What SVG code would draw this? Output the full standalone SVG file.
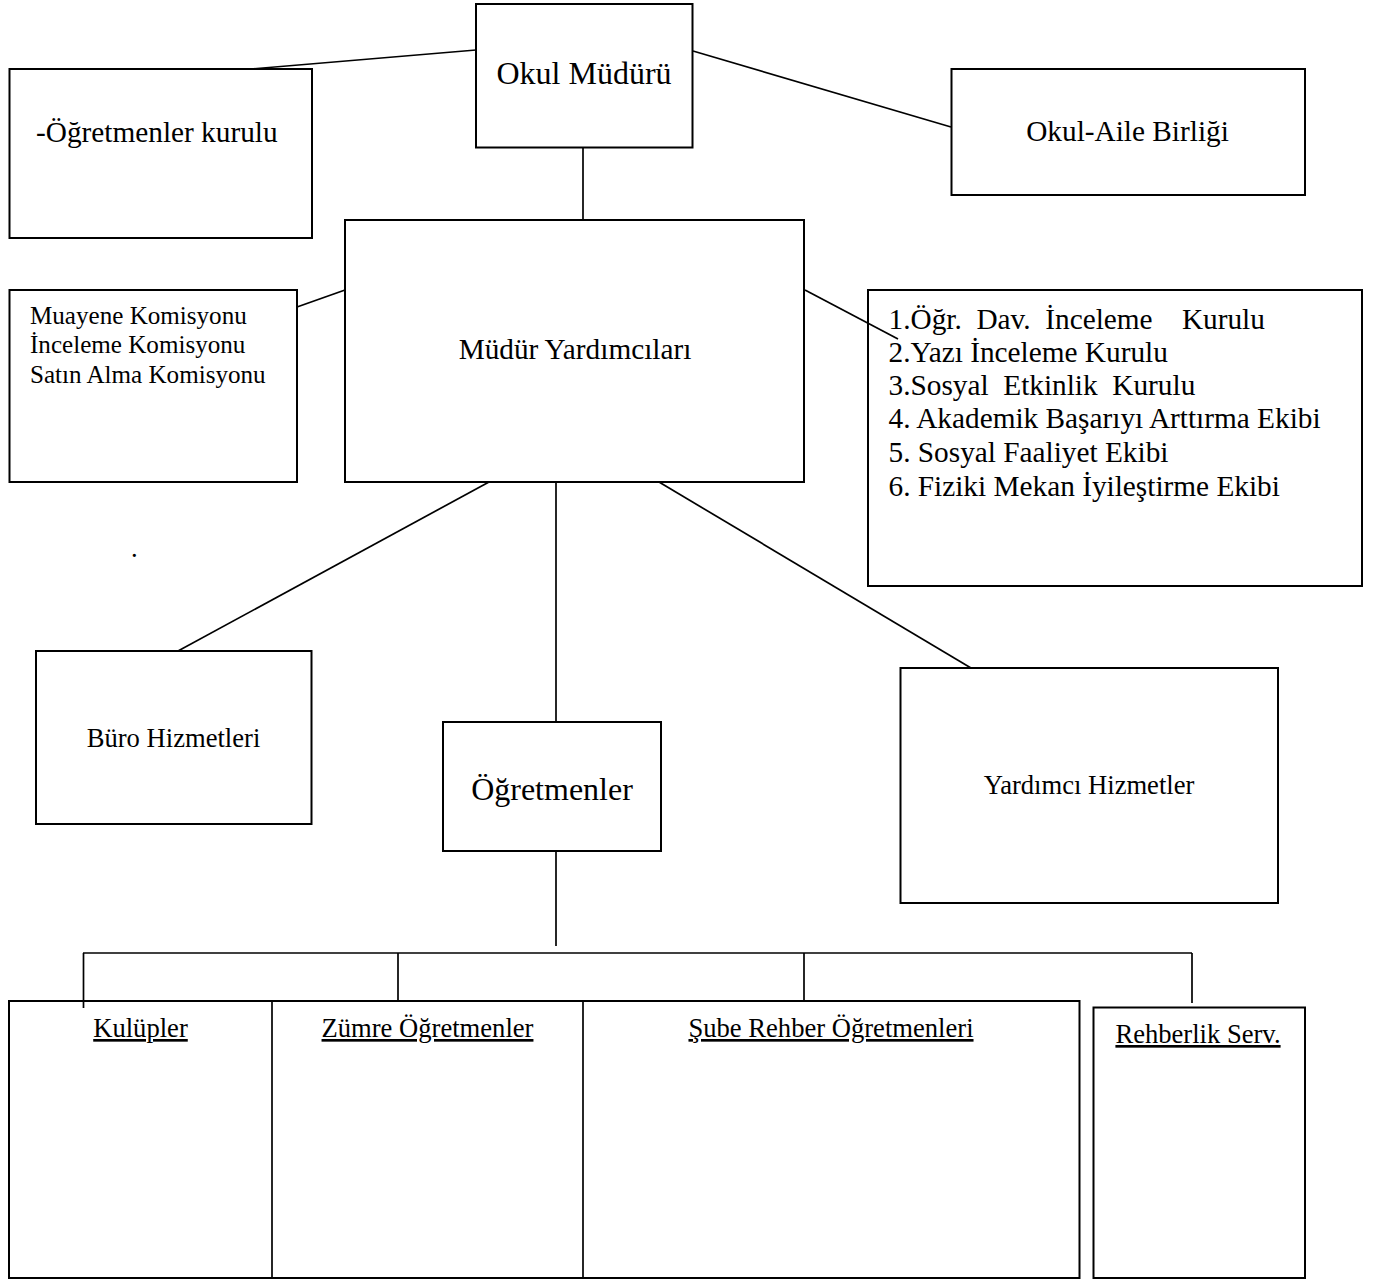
<svg xmlns="http://www.w3.org/2000/svg" width="1376" height="1279" viewBox="0 0 1376 1279">
<style>
  .box { fill: #fff; stroke: #000; stroke-width: 2; }
  .ln { stroke: #000; stroke-width: 1.7; fill: none; }
  text { font-family: "Liberation Serif", "Times New Roman", serif; fill: #000; }
  .t29 { font-size: 29.3px; }
  .t27 { font-size: 26.6px; }
  .t32 { font-size: 32px; }
  .t25 { font-size: 25.1px; }
  .u { text-decoration: underline; }
</style>
<rect width="1376" height="1279" fill="#fff"/>
<g id="okul-muduru">
  <rect class="box" x="476" y="4" width="216.5" height="143.5"/>
  <text class="t32" x="584" y="84" text-anchor="middle">Okul Müdürü</text>
</g>
<g id="ogretmenler-kurulu">
  <rect class="box" x="9.5" y="69" width="302.5" height="169"/>
  <text class="t29" x="36" y="142">-Öğretmenler kurulu</text>
</g>
<g id="okul-aile">
  <rect class="box" x="951.5" y="69" width="353.5" height="126"/>
  <text class="t29" x="1127.5" y="141" text-anchor="middle">Okul-Aile Birliği</text>
</g>
<g id="mudur-yardimcilari">
  <rect class="box" x="345" y="220" width="459" height="262"/>
  <text class="t29" x="575" y="359" text-anchor="middle">Müdür Yardımcıları</text>
</g>
<g id="komisyonlar">
  <rect class="box" x="9.5" y="290" width="287.5" height="192"/>
  <text class="t25" x="30" y="324">Muayene Komisyonu</text>
  <text class="t25" x="30" y="353">İnceleme Komisyonu</text>
  <text class="t25" x="30" y="383">Satın Alma Komisyonu</text>
</g>
<g id="kurullar">
  <rect class="box" x="868" y="290" width="494" height="296"/>
  <text class="t29" x="888.5" y="329" xml:space="preserve">1.Öğr.  Dav.  İnceleme    Kurulu</text>
  <text class="t29" x="888.5" y="362">2.Yazı İnceleme Kurulu</text>
  <text class="t29" x="888.5" y="395" xml:space="preserve">3.Sosyal  Etkinlik  Kurulu</text>
  <text class="t29" x="888.5" y="428">4. Akademik Başarıyı Arttırma Ekibi</text>
  <text class="t29" x="888.5" y="462">5. Sosyal Faaliyet Ekibi</text>
  <text class="t29" x="888.5" y="496">6. Fiziki Mekan İyileştirme Ekibi</text>
</g>
<g id="nokta">
  <text class="t27" x="131" y="557">.</text>
</g>
<g id="buro-hizmetleri">
  <rect class="box" x="36" y="651" width="275.5" height="173"/>
  <text class="t27" x="173.5" y="747" text-anchor="middle">Büro Hizmetleri</text>
</g>
<g id="ogretmenler">
  <rect class="box" x="443" y="722" width="218" height="129"/>
  <text class="t32" x="552" y="800" text-anchor="middle">Öğretmenler</text>
</g>
<g id="yardimci-hizmetler">
  <rect class="box" x="900.5" y="668" width="377.5" height="235"/>
  <text class="t27" x="1089" y="794" text-anchor="middle">Yardımcı Hizmetler</text>
</g>
<g id="alt-birimler">
  <rect class="box" x="9" y="1001" width="1070.5" height="277"/>
  <line class="ln" x1="272" y1="1001" x2="272" y2="1278"/>
  <line class="ln" x1="583" y1="1001" x2="583" y2="1278"/>
  <text class="t27 u" x="140.5" y="1037" text-anchor="middle">Kulüpler</text>
  <text class="t27 u" x="427.5" y="1037" text-anchor="middle">Zümre Öğretmenler</text>
  <text class="t27 u" x="831" y="1037" text-anchor="middle">Şube Rehber Öğretmenleri</text>
</g>
<g id="rehberlik-serv">
  <rect class="box" x="1093.5" y="1007.5" width="211.5" height="270.5"/>
  <text class="t27 u" x="1198" y="1043" text-anchor="middle">Rehberlik Serv.</text>
</g>
<g id="connectors">
  <line class="ln" x1="476" y1="50" x2="251" y2="69"/>
  <line class="ln" x1="693" y1="51" x2="951" y2="127"/>
  <line class="ln" x1="583" y1="148" x2="583" y2="220"/>
  <line class="ln" x1="297" y1="307" x2="345" y2="290"/>
  <line class="ln" x1="805" y1="290" x2="898" y2="339"/>
  <line class="ln" x1="489" y1="482" x2="178" y2="651"/>
  <line class="ln" x1="556" y1="482" x2="556" y2="722"/>
  <line class="ln" x1="659" y1="482" x2="971" y2="668"/>
  <line class="ln" x1="556" y1="851" x2="556" y2="946"/>
  <line class="ln" x1="83" y1="953" x2="1192" y2="953"/>
  <line class="ln" x1="83.5" y1="953" x2="83.5" y2="1008"/>
  <line class="ln" x1="398" y1="953" x2="398" y2="1001"/>
  <line class="ln" x1="804" y1="953" x2="804" y2="1001"/>
  <line class="ln" x1="1192" y1="953" x2="1192" y2="1003"/>
</g>
</svg>
